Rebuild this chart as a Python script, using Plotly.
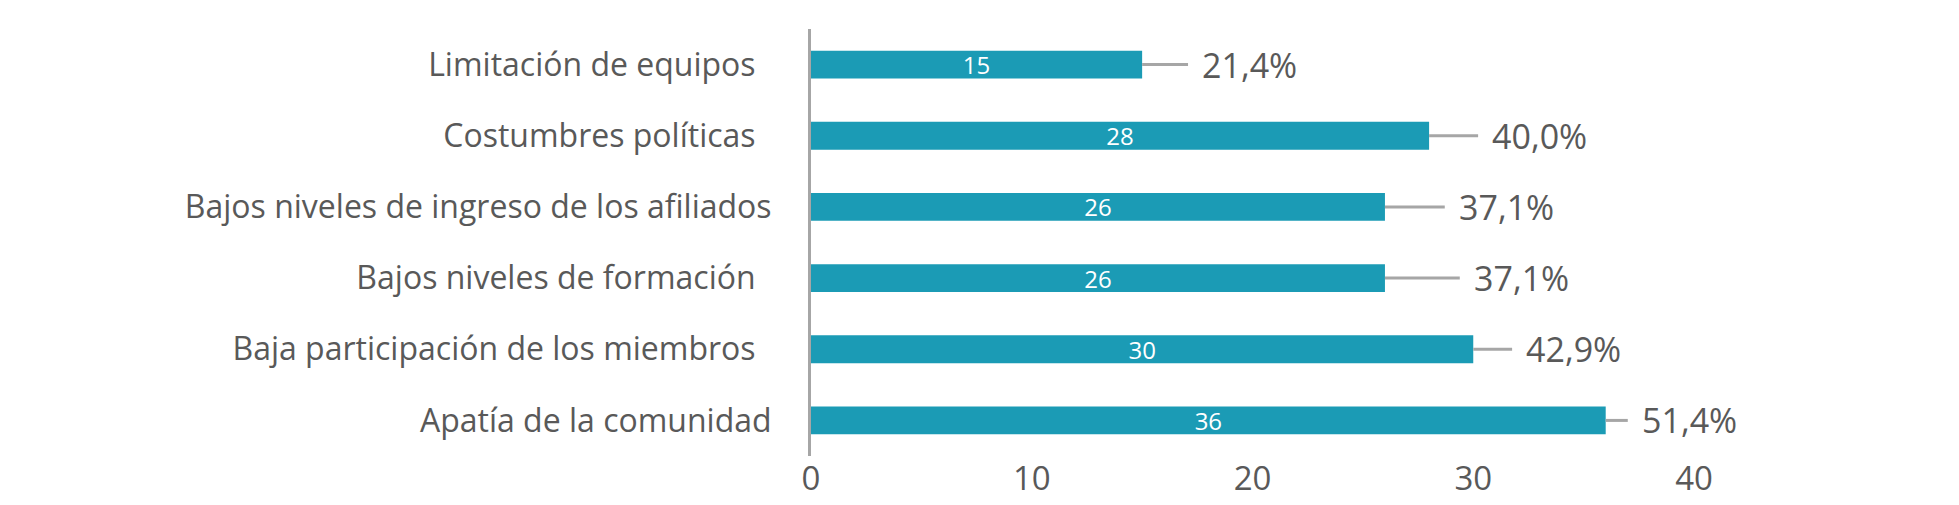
import plotly.graph_objects as go

categories = [
    "Limitación de equipos\u2002",
    "Costumbres políticas\u2002",
    "Bajos niveles de ingreso de los afiliados",
    "Bajos niveles de formación\u2002",
    "Baja participación de los miembros\u2002",
    "Apatía de la comunidad",
]
counts = [15, 28, 26, 26, 30, 36]
percent_labels = ["21,4%", "40,0%", "37,1%", "37,1%", "42,9%", "51,4%"]
x_ticks = [0, 10, 20, 30, 40]

# leader line lengths (axis units) for the percentage labels
leader = [2.08, 2.22, 2.71, 3.39, 1.76, 1.0]

BAR = "#1B9BB5"
TXT = "#595959"
GREY = "#A6A6A6"
FONT = "Open Sans"

fig = go.Figure()
fig.add_trace(go.Bar(
    y=categories, x=counts, orientation="h",
    marker=dict(color=BAR, line=dict(width=0)),
    width=0.39,
    text=[str(c) for c in counts],
    textposition="inside", insidetextanchor="middle",
    textangle=0, constraintext="none",
    textfont=dict(family=FONT, size=24, color="white"),
    error_x=dict(type="data", symmetric=False, array=leader,
                 arrayminus=[0] * len(counts), width=0,
                 thickness=3, color=GREY),
    hoverinfo="skip",
))

for cat, c, l, p in zip(categories, counts, leader, percent_labels):
    fig.add_annotation(x=c + l, y=cat, text=p, showarrow=False,
                       xanchor="left", yanchor="middle", xshift=12,
                       font=dict(family=FONT, size=34, color=TXT))

fig.update_layout(
    width=1959, height=505,
    margin=dict(l=803, r=273, t=21, b=57),
    plot_bgcolor="white", paper_bgcolor="white",
    showlegend=False,
    font=dict(family=FONT, color=TXT),
)
fig.update_xaxes(range=[0, 40], tickvals=x_ticks, showgrid=False,
                 zeroline=False, showline=False, ticks="",
                 tickfont=dict(family=FONT, size=33, color=TXT))
fig.update_yaxes(autorange="reversed", showgrid=False, zeroline=False,
                 showline=True, linecolor=GREY, linewidth=3, ticks="",
                 ticklabelstandoff=30,
                 tickfont=dict(family=FONT, size=32, color=TXT))

fig.write_html("out.html")
